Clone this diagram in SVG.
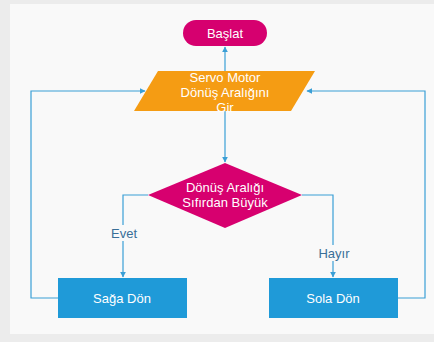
<svg xmlns="http://www.w3.org/2000/svg" width="434" height="342" viewBox="0 0 434 342">
<defs>
<marker id="ah" viewBox="0 0 10 10" refX="9" refY="5" markerWidth="6" markerHeight="6" orient="auto-start-reverse" markerUnits="userSpaceOnUse">
<path d="M0,0 L10,5 L0,10 z" fill="#3a9fd6"/>
</marker>
</defs>
<style>
.t{font-family:"Liberation Sans","Noto Sans",sans-serif;font-size:13px;fill:#ffffff;text-anchor:middle;dominant-baseline:central}
.lbl{font-family:"Liberation Sans","Noto Sans",sans-serif;font-size:13px;fill:#3a6f98;text-anchor:middle;dominant-baseline:central}
.c{fill:none;stroke:#3a9fd6;stroke-width:1.2}
.box{fill:#1f9ad8}
</style>
<rect x="0" y="0" width="434" height="342" fill="#ececec"/>
<rect x="10" y="4" width="424" height="330" fill="#f9f9f9"/>
<g id="connectors">
<line class="c" x1="225" y1="71" x2="225" y2="47" marker-end="url(#ah)"/>
<line class="c" x1="225" y1="111" x2="225" y2="162" marker-end="url(#ah)"/>
<polyline class="c" points="148,195 123,195 123,277" marker-end="url(#ah)"/>
<polyline class="c" points="302,195 333,195 333,277" marker-end="url(#ah)"/>
<polyline class="c" points="58,298 31,298 31,91 145,91" marker-end="url(#ah)"/>
<polyline class="c" points="398,298 425,298 425,91 307,91" marker-end="url(#ah)"/>
<rect x="107" y="225" width="32" height="16" fill="#f9f9f9"/>
<text class="lbl" x="124" y="233">Evet</text>
<rect x="315" y="245" width="36" height="16" fill="#f9f9f9"/>
<text class="lbl" x="334" y="253">Hayır</text>
</g>
<g id="start">
<rect x="183" y="20" width="84" height="26" rx="13" fill="#d6006f"/>
<text class="t" x="225" y="33">Başlat</text>
</g>
<g id="input">
<polygon points="158,71 315,71 291,111 134,111" fill="#f59c13"/>
<text class="t" x="225" y="77">Servo Motor</text>
<text class="t" x="225" y="92">Dönüş Aralığını</text>
<text class="t" x="225" y="107">Gir</text>
</g>
<g id="decision">
<polygon points="225,163 302,195 225,228 148,195" fill="#d7006f"/>
<text class="t" x="225" y="187.5">Dönüş Aralığı</text>
<text class="t" x="225" y="202.5">Sıfırdan Büyük</text>
</g>
<g id="right-turn">
<rect class="box" x="58" y="278" width="129" height="40"/>
<text class="t" x="122" y="298">Sağa Dön</text>
</g>
<g id="left-turn">
<rect class="box" x="269" y="278" width="129" height="40"/>
<text class="t" x="333" y="298">Sola Dön</text>
</g>
</svg>
